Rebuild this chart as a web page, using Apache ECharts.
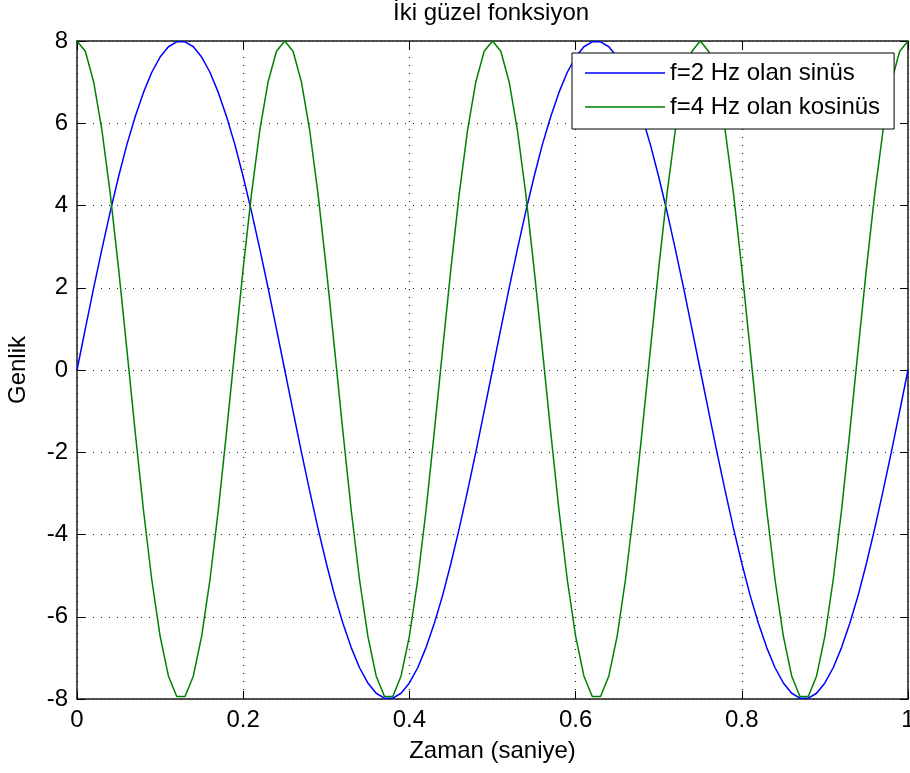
<!DOCTYPE html>
<html>
<head>
<meta charset="utf-8">
<script src="https://cdn.jsdelivr.net/npm/echarts@6/dist/echarts.min.js"></script>
<style>
html,body{margin:0;padding:0;background:#fff;}
#chart{width:910px;height:773px;}
</style>
</head>
<body>
<div id="chart"></div>
<script>
const titleText = "İki güzel fonksiyon";
const xName = "Zaman (saniye)";
const yName = "Genlik";
const seriesNames = ["f=2 Hz olan sinüs", "f=4 Hz olan kosinüs"];

const time = [0,0.01,0.02,0.03,0.04,0.05,0.06,0.07,0.08,0.09,
  0.10,0.11,0.12,0.13,0.14,0.15,0.16,0.17,0.18,0.19,
  0.20,0.21,0.22,0.23,0.24,0.25,0.26,0.27,0.28,0.29,
  0.30,0.31,0.32,0.33,0.34,0.35,0.36,0.37,0.38,0.39,
  0.40,0.41,0.42,0.43,0.44,0.45,0.46,0.47,0.48,0.49,
  0.50,0.51,0.52,0.53,0.54,0.55,0.56,0.57,0.58,0.59,
  0.60,0.61,0.62,0.63,0.64,0.65,0.66,0.67,0.68,0.69,
  0.70,0.71,0.72,0.73,0.74,0.75,0.76,0.77,0.78,0.79,
  0.80,0.81,0.82,0.83,0.84,0.85,0.86,0.87,0.88,0.89,
  0.90,0.91,0.92,0.93,0.94,0.95,0.96,0.97,0.98,0.99,1.00];

const sinus = [0,1.00,1.99,2.94,3.85,4.70,5.48,6.16,6.75,7.24,7.61,7.86,7.98,7.98,7.86,7.61,7.24,6.75,6.16,5.48,4.70,3.85,2.94,1.99,1.00,
  0,-1.00,-1.99,-2.94,-3.85,-4.70,-5.48,-6.16,-6.75,-7.24,-7.61,-7.86,-7.98,-7.98,-7.86,-7.61,-7.24,-6.75,-6.16,-5.48,-4.70,-3.85,-2.94,-1.99,-1.00,
  0,1.00,1.99,2.94,3.85,4.70,5.48,6.16,6.75,7.24,7.61,7.86,7.98,7.98,7.86,7.61,7.24,6.75,6.16,5.48,4.70,3.85,2.94,1.99,1.00,
  0,-1.00,-1.99,-2.94,-3.85,-4.70,-5.48,-6.16,-6.75,-7.24,-7.61,-7.86,-7.98,-7.98,-7.86,-7.61,-7.24,-6.75,-6.16,-5.48,-4.70,-3.85,-2.94,-1.99,-1.00,
  0];

const kosinus = [8,7.75,7.01,5.83,4.29,2.47,0.50,-1.50,-3.41,-5.10,-6.47,-7.44,-7.94,-7.94,-7.44,-6.47,-5.10,-3.41,-1.50,0.50,2.47,4.29,5.83,7.01,7.75,
  8,7.75,7.01,5.83,4.29,2.47,0.50,-1.50,-3.41,-5.10,-6.47,-7.44,-7.94,-7.94,-7.44,-6.47,-5.10,-3.41,-1.50,0.50,2.47,4.29,5.83,7.01,7.75,
  8,7.75,7.01,5.83,4.29,2.47,0.50,-1.50,-3.41,-5.10,-6.47,-7.44,-7.94,-7.94,-7.44,-6.47,-5.10,-3.41,-1.50,0.50,2.47,4.29,5.83,7.01,7.75,
  8,7.75,7.01,5.83,4.29,2.47,0.50,-1.50,-3.41,-5.10,-6.47,-7.44,-7.94,-7.94,-7.44,-6.47,-5.10,-3.41,-1.50,0.50,2.47,4.29,5.83,7.01,7.75,
  8];

const xTicks = { min: 0, max: 1, interval: 0.2 };
const yTicks = { min: -8, max: 8, interval: 2 };

const FONT = "'Liberation Sans', Arial, Helvetica, sans-serif";
const frameLine = { show: true, onZero: false, lineStyle: { color: '#1a1a1a', width: 1.5 } };
const gridLine = { show: true, lineStyle: { color: '#222', width: 1.2, type: [1, 7] } };
const tick = { show: true, inside: true, length: 8, lineStyle: { color: '#000', width: 1 } };

const chart = echarts.init(document.getElementById('chart'), null, { renderer: 'canvas' });
chart.setOption({
  animation: false,
  backgroundColor: '#fff',
  title: {
    text: titleText,
    left: 393,
    top: 1,
    padding: 0,
    textStyle: { fontFamily: FONT, fontSize: 24, fontWeight: 'normal', color: '#000' }
  },
  legend: {
    orient: 'vertical',
    left: 572,
    top: 53,
    padding: [8, 14, 10, 13],
    icon: 'rect',
    itemWidth: 80,
    itemHeight: 1.5,
    itemGap: 10,
    backgroundColor: '#fff',
    borderColor: '#000',
    borderWidth: 1,
    borderRadius: 0,
    textStyle: { fontFamily: FONT, fontSize: 24, color: '#000', lineHeight: 24 },
    data: seriesNames
  },
  grid: { left: 77, right: 2, top: 41, bottom: 74, containLabel: false, outerBoundsMode: 'none' },
  xAxis: [{
    type: 'value', position: 'bottom',
    min: xTicks.min, max: xTicks.max, interval: xTicks.interval,
    name: xName, nameLocation: 'middle', nameGap: 40,
    nameTextStyle: { fontFamily: FONT, fontSize: 24, color: '#000' },
    axisLine: frameLine,
    axisTick: tick,
    axisLabel: { fontFamily: FONT, fontSize: 24, color: '#000', margin: 9,
      formatter: v => String(+v.toFixed(1)) },
    splitLine: gridLine
  }, {
    type: 'value', position: 'top',
    min: xTicks.min, max: xTicks.max, interval: xTicks.interval,
    axisLine: frameLine,
    axisTick: tick,
    axisLabel: { show: false },
    splitLine: { show: false }
  }],
  yAxis: [{
    type: 'value', position: 'left',
    min: yTicks.min, max: yTicks.max, interval: yTicks.interval,
    name: yName, nameLocation: 'middle', nameGap: 47, nameRotate: 90,
    nameTextStyle: { fontFamily: FONT, fontSize: 24, color: '#000' },
    axisLine: frameLine,
    axisTick: tick,
    axisLabel: { fontFamily: FONT, fontSize: 24, color: '#000', margin: 9 },
    splitLine: gridLine
  }, {
    type: 'value', position: 'right',
    min: yTicks.min, max: yTicks.max, interval: yTicks.interval,
    axisLine: frameLine,
    axisTick: tick,
    axisLabel: { show: false },
    splitLine: { show: false }
  }],
  series: [{
    name: seriesNames[0], type: 'line',
    data: time.map((t, i) => [t, sinus[i]]),
    symbol: 'none', lineStyle: { color: '#0000ff', width: 1.5 }, itemStyle: { color: '#0000ff' }
  }, {
    name: seriesNames[1], type: 'line',
    data: time.map((t, i) => [t, kosinus[i]]),
    symbol: 'none', lineStyle: { color: '#008000', width: 1.5 }, itemStyle: { color: '#008000' }
  }]
});
</script>
</body>
</html>
